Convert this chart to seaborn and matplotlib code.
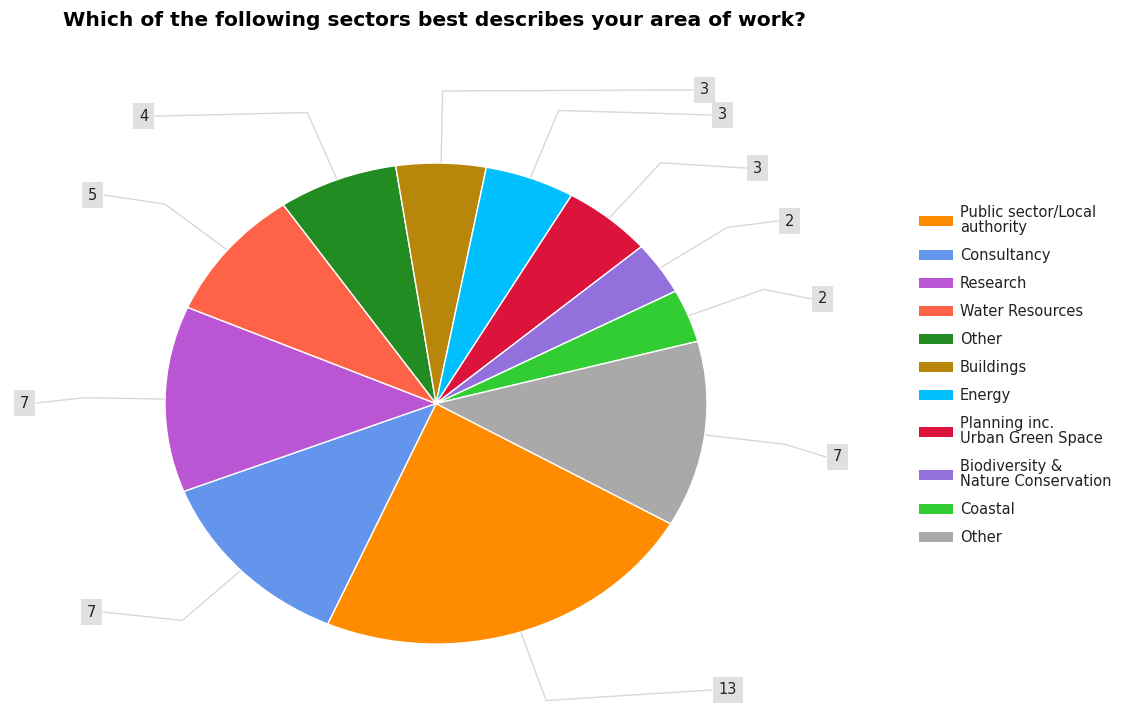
import numpy as np
import matplotlib.pyplot as plt
import seaborn as sns
from matplotlib.patches import Patch

# data
sectors = ["Public sector/Local\nauthority", "Consultancy", "Research", "Water Resources",
           "Other", "Buildings", "Energy", "Planning inc.\nUrban Green Space",
           "Biodiversity &\nNature Conservation", "Coastal", "Other"]
counts = [13, 7, 7, 5, 4, 3, 3, 3, 2, 2, 7]
colors = ["#FF8C00", "#6495ED", "#BA55D3", "#FF6347", "#228B22", "#B8860B",
          "#00BFFF", "#DC143C", "#9370DB", "#32CD32", "#A9A9A9"]

# where each leader line ends (axes data units, pie radius = 1)
label_ends = [(1.018, -1.191), (-1.229, -0.867), (-1.476, 0.002), (-1.225, 0.867),
              (-1.037, 1.195), (0.948, 1.304), (1.015, 1.200), (1.144, 0.979),
              (1.262, 0.759), (1.384, 0.435), (1.439, -0.222)]

sns.set_theme(style="white")
plt.rcParams["font.family"] = ["DejaVu Sans"]

fig = plt.figure(figsize=(11.23, 7.08), dpi=100)
ax = fig.add_axes([0, 0, 1, 1])

wedges, _ = ax.pie(counts, colors=colors, startangle=-30, counterclock=False,
                   wedgeprops=dict(edgecolor="white", linewidth=1.0))
ax.set_aspect("auto")
ax.set_xlim(-1.609, 2.535)
ax.set_ylim(-1.266, 1.678)
ax.axis("off")

# leader lines + value boxes
for w, n, (ex, ey) in zip(wedges, counts, label_ends):
    mid = np.deg2rad((w.theta1 + w.theta2) / 2)
    cx, cy = np.cos(mid), np.sin(mid)
    ax.plot([cx, 1.3 * cx, ex], [cy, 1.3 * cy, ey], color="#d8d8d8", lw=1.0, zorder=0)
    right = ex > 0
    ax.annotate(str(n), xy=(ex, ey), xytext=(5 if right else -5, 0),
                textcoords="offset points", ha="left" if right else "right",
                va="center", fontsize=10.5, color="#222222",
                bbox=dict(boxstyle="square,pad=0.38", fc="#e0e0e0", ec="none"))

fig.text(63 / 1123, 1 - 21 / 708,
         "Which of the following sectors best describes your area of work?",
         fontsize=14.6, fontweight="bold", color="#000000", va="center", ha="left")

handles = [Patch(facecolor=c, edgecolor="none") for c in colors]
leg = fig.legend(handles, sectors, loc="upper left", bbox_to_anchor=(919 / 1123, 1 - 205 / 708),
                 frameon=False, fontsize=10.5, handlelength=2.33, handleheight=0.68,
                 handletextpad=0.48, labelspacing=0.89, borderpad=0, borderaxespad=0,
                 labelcolor="#222222")
for t in leg.get_texts():
    t.set_linespacing(1.0)

fig.savefig("out.png", dpi=100)
